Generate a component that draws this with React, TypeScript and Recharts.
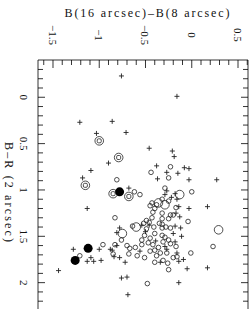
import { ScatterChart, Scatter, XAxis, YAxis } from "recharts"

// axis ticks (every 0.1, labels on the half units)
const xTicks = [-1.6, -1.5, -1.4, -1.3, -1.2, -1.1, -1, -0.9, -0.8, -0.7, -0.6, -0.5, -0.4, -0.3, -0.2, -0.1, 0, 0.1, 0.2, 0.3, 0.4, 0.5, 0.6]
const yTicks = [-0.3, -0.2, -0.1, 0, 0.1, 0.2, 0.3, 0.4, 0.5, 0.6, 0.7, 0.8, 0.9, 1, 1.1, 1.2, 1.3, 1.4, 1.5, 1.6, 1.7, 1.8, 1.9, 2, 2.1, 2.2, 2.3, 2.4]
const xLabels = [-1.5, -1, -0.5, 0, 0.5]
const yLabels = [0, 0.5, 1, 1.5, 2]

// [B16-B8, B-R]
const filledPts: [number, number][] = [[-0.78, 1.02], [-1.12, 1.63], [-1.26, 1.76]]
const doublePts: [number, number][] = [[-1.0, 0.47], [-0.79, 0.65], [-1.15, 0.95], [-0.85, 1.04], [-0.68, 1.07]]
const bigPts: [number, number][] = [[-0.13, 1.05], [-0.6, 1.4], [0.29, 1.43], [-0.36, 1.14], [-0.29, 1.16], [-0.75, 1.47]]
const smallPts: [number, number][] = [
  [-0.44, 0.81], [-0.23, 0.75], [-0.25, 0.87], [-0.81, 0.89], [-0.62, 1.02], [-0.56, 1.05], [-0.29, 0.98],
  [0.0, 1.02], [-0.17, 1.19], [-0.83, 1.3], [-0.64, 1.39], [-0.49, 1.33], [-0.76, 1.54], [0.23, 1.61],
  [-0.96, 1.59], [-0.7, 1.6], [-0.67, 1.63], [-0.61, 1.62], [-0.54, 1.59], [-0.68, 1.69], [-0.59, 1.71],
  [-0.51, 1.73], [-0.16, 1.72], [-0.01, 1.68], [-0.25, 1.86], [-0.48, 2.01], [-1.21, 1.71], [-0.42, 1.24],
  [-0.46, 1.35], [-0.52, 1.36], [-0.49, 1.42], [-0.4, 1.47], [-0.83, 1.59], [-0.85, 1.69], [-0.32, 1.25],
  [-0.23, 1.27], [-0.04, 1.34], [-0.32, 1.37], [-0.28, 1.4], [-0.23, 1.41], [-0.32, 1.49], [-0.29, 1.51],
  [-0.31, 1.56], [-0.25, 1.54], [-0.23, 1.58], [-0.17, 1.61], [-0.34, 1.68], [-0.27, 1.68], [-0.32, 1.1],
  [-0.25, 1.12], [-0.43, 1.14], [-0.4, 1.2], [-0.38, 1.16], [-0.45, 1.17], [-0.43, 1.3], [-0.32, 1.31],
  [-0.25, 1.31], [-0.2, 1.27], [-0.41, 1.4], [-0.35, 1.36], [-0.32, 1.41], [-0.51, 1.49], [-0.45, 1.52],
  [-0.54, 1.54], [-0.47, 1.57], [-0.42, 1.59], [-0.4, 1.65], [-0.45, 1.66], [-0.36, 1.62], [-0.38, 1.71],
  [-0.4, 1.78], [-0.31, 1.76], [-0.26, 1.79], [-0.2, 1.73],
]
const crossPts: [number, number][] = [
  [-0.76, -0.23], [-0.16, -0.01], [-1.21, 0.27], [-0.86, 0.26], [-0.71, 0.38], [-1.03, 0.39], [-0.46, 0.55],
  [-0.21, 0.58], [-0.19, 0.64], [-0.9, 0.71], [-1.09, 0.79], [-0.38, 0.74], [-0.27, 0.81], [-0.15, 0.82],
  [-0.08, 0.76], [-0.03, 0.77], [-1.18, 0.87], [-0.37, 0.88], [-0.03, 0.89], [0.27, 0.89], [-1.28, 1.64],
  [-1.44, 1.87], [-1.13, 1.2], [-1.0, 1.64], [-0.88, 1.64], [-1.09, 1.73], [-1.13, 1.77], [-1.06, 1.77],
  [-0.98, 1.76], [-0.68, 0.98], [-0.18, 1.04], [-0.29, 1.05], [-0.16, 1.1], [-0.03, 1.2], [0.17, 1.18],
  [-0.78, 1.41], [-0.46, 1.38], [-0.12, 1.41], [-0.81, 1.46], [-0.81, 1.6], [-0.86, 1.65], [-0.84, 1.72],
  [-0.78, 1.73], [-0.72, 1.78], [-0.34, 1.78], [-0.09, 1.75], [-0.05, 1.85], [0.17, 1.84], [-0.76, 1.95],
  [-0.7, 1.94], [-0.14, 2.0], [-0.69, 2.13], [-0.17, 1.25], [-0.13, 1.29], [-0.18, 1.39], [-0.2, 1.47],
  [-0.11, 1.5], [-0.18, 1.56], [-0.27, 1.64], [-0.16, 1.68], [-0.14, 1.77], [-0.22, 1.08], [-0.14, 1.18],
  [-0.27, 1.01], [-0.54, 1.38], [-0.5, 1.45], [-0.39, 1.55], [-0.56, 1.66], [-0.29, 1.61],
]

const toRows = (pts: [number, number][]) => pts.map(([x, y]) => ({ x, y }))

const PLOT_LEFT = 38
const PLOT_RIGHT = 248
const PLOT_TOP = 60
const INK = "#222"
const FONT = "'Liberation Serif', serif"

const isLabel = (v: number, list: number[]) => list.some((l) => Math.abs(l - v) < 1e-6)
const fmt = (v: number) => String(v).replace("-", "\u2212")

function TopTick(props: any) {
  const { x, payload } = props
  const v = payload.value
  const major = isLabel(v, xLabels)
  return (
    <g>
      <line x1={x} y1={PLOT_TOP} x2={x} y2={PLOT_TOP + (major ? 8 : 5)} stroke="#000" strokeWidth={0.8} />
      {major && (
        <text x={x} y={35} transform={`rotate(90 ${x} 35)`} textAnchor="middle" dominantBaseline="central"
          fontFamily={FONT} fontSize={11} fill="#111">
          {fmt(v)}
        </text>
      )}
    </g>
  )
}

function LeftTick(props: any) {
  const { y, payload } = props
  const v = payload.value
  const major = isLabel(v, yLabels)
  const len = major ? 7 : 5
  return (
    <g>
      <line x1={PLOT_LEFT} y1={y} x2={PLOT_LEFT + len} y2={y} stroke="#000" strokeWidth={0.8} />
      <line x1={PLOT_RIGHT} y1={y} x2={PLOT_RIGHT - len} y2={y} stroke="#000" strokeWidth={0.8} />
      {major && (
        <text x={24} y={y} transform={`rotate(90 24 ${y})`} textAnchor="middle" dominantBaseline="central"
          fontFamily={FONT} fontSize={11} fill="#111">
          {fmt(v)}
        </text>
      )}
    </g>
  )
}

const TopTitle = () => (
  <text x={147} y={13} textAnchor="middle" dominantBaseline="central" fontFamily={FONT} fontSize={12}
    textLength={165} lengthAdjust="spacing" fill="#111">
    B(16 arcsec)–B(8 arcsec)
  </text>
)

const LeftTitle = () => (
  <text x={9} y={192} transform="rotate(90 9 192)" textAnchor="middle" dominantBaseline="central"
    fontFamily={FONT} fontSize={12} textLength={100} lengthAdjust="spacing" fill="#111">
    B–R (2 arcsec)
  </text>
)

const Cross = ({ cx, cy }: any) => (
  <path d={`M${cx - 2.5},${cy}H${cx + 2.5}M${cx},${cy - 2.5}V${cy + 2.5}`} stroke={INK} strokeWidth={0.9} />
)
const SmallRing = ({ cx, cy }: any) => <circle cx={cx} cy={cy} r={2.3} fill="none" stroke={INK} strokeWidth={0.8} />
const BigRing = ({ cx, cy }: any) => <circle cx={cx} cy={cy} r={4.3} fill="none" stroke={INK} strokeWidth={0.8} />
const Dot = ({ cx, cy }: any) => <circle cx={cx} cy={cy} r={4.5} fill="#000" />
const DoubleRing = ({ cx, cy }: any) => (
  <g>
    <circle cx={cx} cy={cy} r={4.3} fill="none" stroke={INK} strokeWidth={0.8} />
    <rect x={cx - 2} y={cy - 2} width={4} height={4} rx={1.2} fill="none" stroke={INK} strokeWidth={0.8} />
  </g>
)

export default function App() {
  return (
    <div style={{ position: "absolute", left: 0, top: 0, width: 251, height: 309, overflow: "hidden", background: "#fff" }}>
      <ScatterChart width={251} height={329} margin={{ top: 0, right: 0, bottom: 0, left: 0 }}>
        <XAxis type="number" dataKey="x" orientation="top" height={PLOT_TOP} domain={[-1.662, 0.608]}
          allowDataOverflow ticks={xTicks} interval={0} tick={<TopTick />} tickLine={false}
          axisLine={{ stroke: "#000", strokeWidth: 0.8 }} label={<TopTitle />} />
        <YAxis type="number" dataKey="y" reversed width={PLOT_LEFT} domain={[-0.402, 2.5]} allowDataOverflow
          ticks={yTicks} interval={0} tick={<LeftTick />} tickLine={false}
          axisLine={{ stroke: "#000", strokeWidth: 0.8 }} label={<LeftTitle />} />
        <YAxis yAxisId="r" type="number" orientation="right" reversed width={251 - PLOT_RIGHT} domain={[-0.402, 2.5]}
          allowDataOverflow tick={false} tickLine={false} axisLine={{ stroke: "#000", strokeWidth: 0.8 }} />
        <Scatter data={toRows(crossPts)} shape={<Cross />} isAnimationActive={false} />
        <Scatter data={toRows(smallPts)} shape={<SmallRing />} isAnimationActive={false} />
        <Scatter data={toRows(bigPts)} shape={<BigRing />} isAnimationActive={false} />
        <Scatter data={toRows(doublePts)} shape={<DoubleRing />} isAnimationActive={false} />
        <Scatter data={toRows(filledPts)} shape={<Dot />} isAnimationActive={false} />
      </ScatterChart>
    </div>
  )
}
